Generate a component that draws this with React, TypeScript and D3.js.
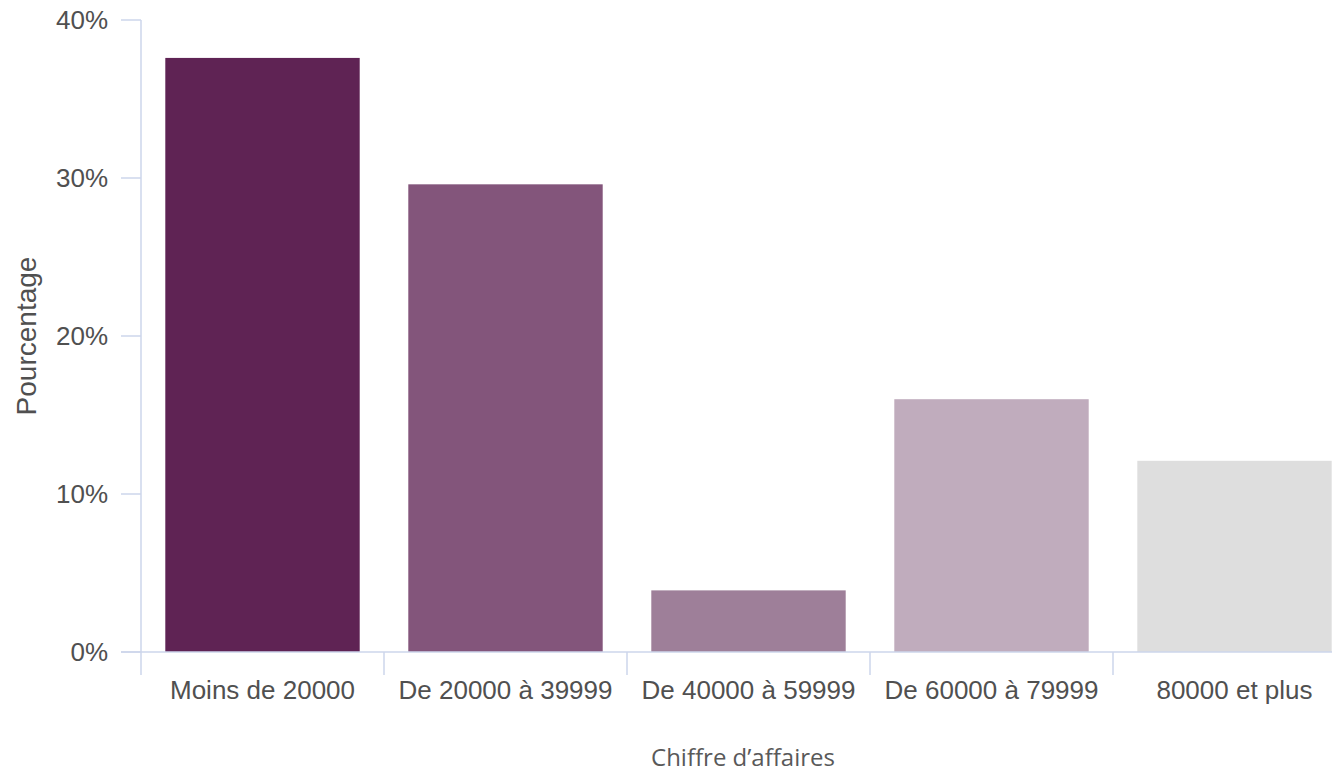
import React from "react";
import * as d3 from "d3";

const categories = ["Moins de 20000", "De 20000 à 39999", "De 40000 à 59999", "De 60000 à 79999", "80000 et plus"];
const values = [37.6, 29.6, 3.9, 16.0, 12.1];
const colors = ["#5f2354", "#83557b", "#9e7f99", "#c0acbd", "#dedede"];
const yTicks = [0, 10, 20, 30, 40];
const yTitle = "Pourcentage";
const xTitle = "Chiffre d\u2019affaires";

const W = 1332, H = 776;
const left = 141, right = 1356, top = 20, bottom = 652;

export default function App() {
  const x = d3.scaleBand<string>().domain(categories).range([left, right]).paddingInner(0.2).paddingOuter(0.1);
  const y = d3.scaleLinear().domain([0, 40]).range([bottom, top]);
  const step = x.step();
  const axisColor = "#ccd6eb";
  const labelColor = "#505050";
  const font = "'Liberation Sans', Arial, sans-serif";
  const tickPositions = categories.map((c) => (x(c) as number) - x.paddingInner() * step / 2);
  return (
    <svg width={W} height={H} style={{ position: "absolute", left: 0, top: 0, background: "#fff" }}>
      <rect x={0} y={0} width={W} height={H} fill="#fff" />
      {categories.map((c, i) => (
        <rect key={c} x={x(c)} y={y(values[i])} width={x.bandwidth()} height={y(0) - y(values[i])} fill={colors[i]} />
      ))}
      <line x1={left} x2={left} y1={top} y2={bottom} stroke={axisColor} strokeWidth={1.5} />
      <line x1={121} x2={W} y1={bottom} y2={bottom} stroke={axisColor} strokeWidth={1.5} />
      {yTicks.map((t) => (
        <g key={t}>
          <line x1={121} x2={left} y1={y(t)} y2={y(t)} stroke={axisColor} strokeWidth={1.5} />
          <text x={108} y={y(t)} dy="0.35em" textAnchor="end" fontFamily={font} fontSize={26} fill={labelColor}>{t}%</text>
        </g>
      ))}
      {tickPositions.map((p, i) => (
        <line key={i} x1={p} x2={p} y1={bottom} y2={675} stroke={axisColor} strokeWidth={1.5} />
      ))}
      {categories.map((c) => (
        <text key={c} x={(x(c) as number) + x.bandwidth() / 2} y={699} textAnchor="middle" fontFamily={font} fontSize={26} fill={labelColor}>{c}</text>
      ))}
      <text transform={`translate(36,336) rotate(-90)`} textAnchor="middle" fontFamily={font} fontSize={28} fill={labelColor}>{yTitle}</text>
      <text x={743} y={766} textAnchor="middle" fontFamily="'Open Sans', sans-serif" fontSize={24} fill="#595959">{xTitle}</text>
    </svg>
  );
}
